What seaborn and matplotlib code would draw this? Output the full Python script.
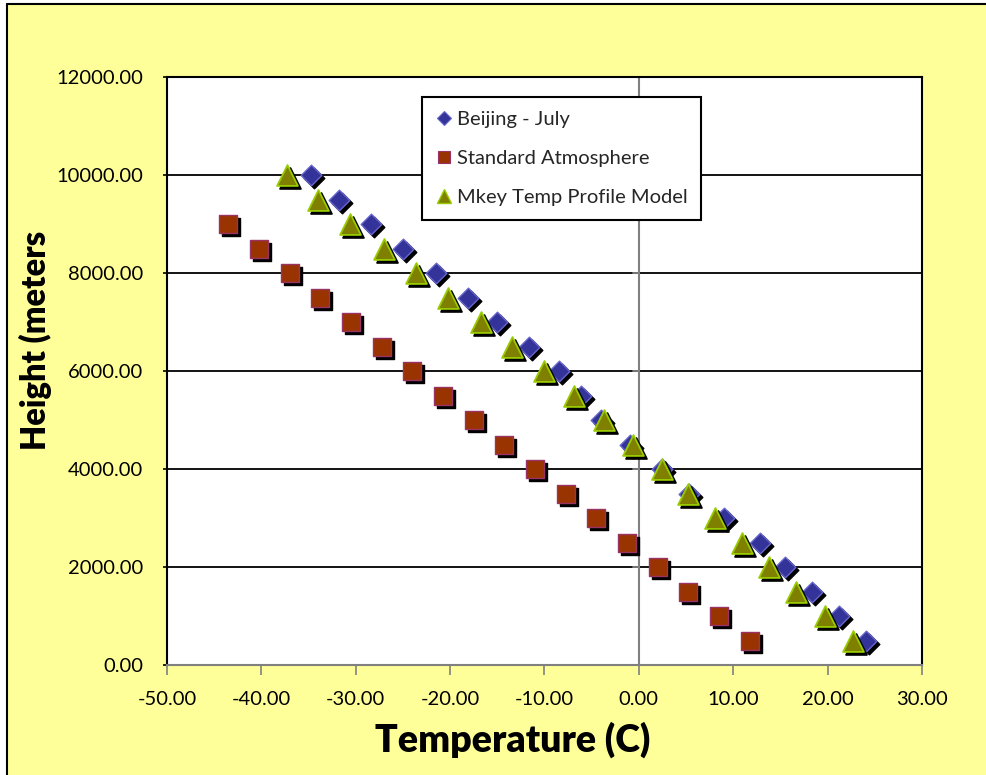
import matplotlib
matplotlib.use("Agg")
import matplotlib.pyplot as plt
import seaborn as sns
import pandas as pd
from matplotlib.transforms import ScaledTranslation
from matplotlib.lines import Line2D
from matplotlib.patches import Rectangle

# ---------------- data ----------------
heights_beijing = [500, 1000, 1500, 2000, 2500, 3000, 3500, 4000, 4500, 5000,
                   5500, 6000, 6500, 7000, 7500, 8000, 8500, 9000, 9500, 10000]
temp_beijing = [24.05, 21.2, 18.3, 15.47, 12.8, 9.0, 5.3, 2.4, -0.9, -4.0,
                -6.1, -8.45, -11.65, -15.0, -18.1, -21.5, -25.0, -28.4, -31.8, -34.7]

heights_std = [500, 1000, 1500, 2000, 2500, 3000, 3500, 4000, 4500, 5000,
               5500, 6000, 6500, 7000, 7500, 8000, 8500, 9000]
temp_std = [11.75, 8.5, 5.25, 2.0, -1.25, -4.5, -7.75, -11.0, -14.25, -17.5,
            -20.75, -24.0, -27.25, -30.5, -33.75, -37.0, -40.25, -43.5]

heights_mkey = [500, 1000, 1500, 2000, 2500, 3000, 3500, 4000, 4500, 5000,
                5500, 6000, 6500, 7000, 7500, 8000, 8500, 9000, 9500, 10000]
temp_mkey = [22.7, 19.7, 16.7, 13.8, 10.95, 8.05, 5.2, 2.4, -0.6, -3.7,
             -6.9, -10.1, -13.45, -16.75, -20.2, -23.6, -27.0, -30.6, -33.95, -37.3]

series_names = ["Beijing - July", "Standard Atmosphere", "Mkey Temp Profile Model"]
x_ticks = [-50, -40, -30, -20, -10, 0, 10, 20, 30]
y_ticks = [0, 2000, 4000, 6000, 8000, 10000, 12000]

# ---------------- style ----------------
sns.set_theme(style="white")
plt.rcParams["font.family"] = ["Lato", "DejaVu Sans"]

W, H = 987, 775
fig = plt.figure(figsize=(W / 100, H / 100), dpi=100)
YELLOW = "#FFFF99"
fig.patch.set_facecolor(YELLOW)

# white margin strips + black outer border (cropped at right/bottom)
fig.patches.append(Rectangle((0, 0), 6 / W, 1, transform=fig.transFigure,
                             facecolor="white", edgecolor="none", zorder=0))
fig.patches.append(Rectangle((0, 1 - 3 / H), 1, 3 / H, transform=fig.transFigure,
                             facecolor="white", edgecolor="none", zorder=0))
fig.lines.append(Line2D([6.5 / W, 6.5 / W], [0, 1 - 3.5 / H], transform=fig.transFigure,
                        color="black", lw=1.5))
fig.lines.append(Line2D([6.5 / W, 1], [1 - 3.5 / H, 1 - 3.5 / H], transform=fig.transFigure,
                        color="black", lw=1.5))

L, R, T, B = 167, 922, 77, 665
ax = fig.add_axes([L / W, 1 - B / H, (R - L) / W, (B - T) / H])
ax.set_facecolor("white")

df_b = pd.DataFrame({"t": temp_beijing, "h": heights_beijing})
df_s = pd.DataFrame({"t": temp_std, "h": heights_std})
df_m = pd.DataFrame({"t": temp_mkey, "h": heights_mkey})

shadow_off = ScaledTranslation(3 / 100, -3 / 100, fig.dpi_scale_trans)

specs = [
    (df_b, "D", 10.5, "#333399", "#6666CC", 1.0),
    (df_s, "s", 13.5, "#993300", "#993366", 1.0),
    (df_m, "^", 15.0, "#808000", "#99CC00", 1.3),
]

z = 3
for df, mk, ms, fc, ec, lw in specs:
    n_before = len(ax.collections)
    sns.scatterplot(data=df, x="t", y="h", marker=mk, s=ms ** 2, color="black",
                    edgecolor="black", linewidth=lw, ax=ax, legend=False, zorder=z)
    sh = ax.collections[n_before]
    sh.set_offset_transform(ax.transData + shadow_off)
    z += 1
    sns.scatterplot(data=df, x="t", y="h", marker=mk, s=ms ** 2, color=fc,
                    edgecolor=ec, linewidth=lw, ax=ax, legend=False, zorder=z)
    z += 1

ax.set_xlim(-50, 30)
ax.set_ylim(0, 12000)
ax.set_xticks(x_ticks)
ax.set_yticks(y_ticks)
ax.set_xticklabels([f"{v:.2f}" for v in x_ticks], fontsize=14.5)
ax.set_yticklabels([f"{v:.2f}" for v in y_ticks], fontsize=14.5)

# gridlines
for yv in y_ticks[1:-1]:
    ax.axhline(yv, color="black", lw=1.3, zorder=1)
ax.axvline(0, color="#808080", lw=1.5, zorder=1)
# small ticks on the zero axis
for yv in y_ticks:
    ax.plot([-0.6, 0], [yv, yv], color="#808080", lw=1.3, zorder=1, clip_on=False)

for side in ["top", "left", "right"]:
    ax.spines[side].set_color("black")
    ax.spines[side].set_linewidth(1.5)
ax.spines["bottom"].set_color("#808080")
ax.spines["bottom"].set_linewidth(1.5)

ax.tick_params(axis="x", direction="out", length=7, width=1.2, color="#808080",
               pad=12, labelcolor="black", bottom=True)
ax.tick_params(axis="y", direction="out", length=3, width=1.2, color="black",
               pad=14, labelcolor="black", left=True)
ax.set_xlabel("")
ax.set_ylabel("")

fig.text(513 / W, 1 - 740 / H, "Temperature (C)", fontsize=27, fontweight="heavy",
         ha="center", va="center", color="black")
fig.text(35 / W, 1 - 340 / H, "Height (meters", fontsize=23.5, fontweight="heavy",
         ha="center", va="center", rotation=90, color="black")

# legend
handles = [
    Line2D([], [], ls="none", marker="D", markersize=7, markerfacecolor="#333399",
           markeredgecolor="#6666CC", markeredgewidth=0.8),
    Line2D([], [], ls="none", marker="s", markersize=9, markerfacecolor="#993300",
           markeredgecolor="#993366", markeredgewidth=0.8),
    Line2D([], [], ls="none", marker="^", markersize=10, markerfacecolor="#808000",
           markeredgecolor="#99CC00", markeredgewidth=1.0),
]
leg = ax.legend(handles, series_names, loc="upper left",
                bbox_to_anchor=(422 / W, 1 - 97 / H), bbox_transform=fig.transFigure,
                borderaxespad=0, fontsize=14.5, frameon=True, fancybox=False,
                framealpha=1, edgecolor="black", facecolor="white",
                handlelength=0.8, handletextpad=0.25, labelspacing=1.1,
                borderpad=0.68)
leg.get_frame().set_linewidth(1.5)
leg.set_zorder(20)

fig.savefig("out.png", dpi=100, facecolor=fig.get_facecolor())
